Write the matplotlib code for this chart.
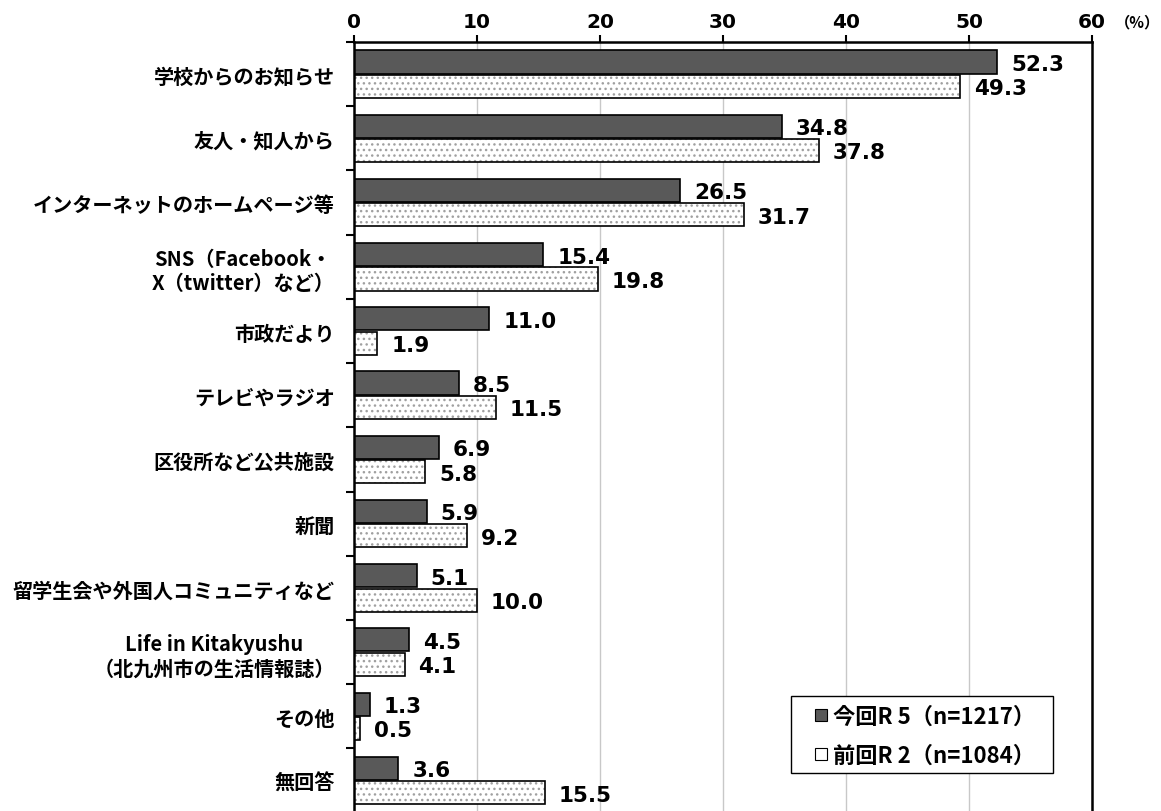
import numpy as np
import matplotlib
matplotlib.use("Agg")
import matplotlib.pyplot as plt
from matplotlib.lines import Line2D
from matplotlib.patches import Rectangle

plt.rcParams['font.family'] = ['Noto Sans CJK JP', 'DejaVu Sans']
plt.rcParams['hatch.linewidth'] = 1.0

# data
categories = [
    "学校からのお知らせ",
    "友人・知人から",
    "インターネットのホームページ等",
    "SNS（Facebook・\nX（twitter）など）",
    "市政だより",
    "テレビやラジオ",
    "区役所など公共施設",
    "新聞",
    "留学生会や外国人コミュニティなど",
    "Life in Kitakyushu\n（北九州市の生活情報誌）",
    "その他",
    "無回答",
]
r5 = [52.3, 34.8, 26.5, 15.4, 11.0, 8.5, 6.9, 5.9, 5.1, 4.5, 1.3, 3.6]
r2 = [49.3, 37.8, 31.7, 19.8, 1.9, 11.5, 5.8, 9.2, 10.0, 4.1, 0.5, 15.5]
legend_labels = ["今回R 5（n=1217）", "前回R 2（n=1084）"]

dark = "#595959"
num_font = ["DejaVu Sans"]
h = 0.36
y = np.arange(len(categories))

fig = plt.figure(figsize=(11.61, 8.12), dpi=100)
ax = fig.add_axes([0.305, -0.002, 0.6355, 0.949])

ax.barh(y - 0.19, r5, height=h, color=dark, edgecolor="black", linewidth=1.2, zorder=3)
# dotted bars: hatch first, then the black outline on top
ax.barh(y + 0.19, r2, height=h, color="white", hatch="...", edgecolor="#a0a0a0", linewidth=0, zorder=3)
ax.barh(y + 0.19, r2, height=h, fill=False, edgecolor="black", linewidth=1.2, zorder=4)

for i in range(len(categories)):
    ax.annotate(f"{r5[i]:.1f}", (r5[i], y[i] - 0.16), xytext=(10, 0), textcoords="offset points",
                ha="left", va="center", fontsize=15.5, fontweight="bold", family=num_font)
    ax.annotate(f"{r2[i]:.1f}", (r2[i], y[i] + 0.22), xytext=(10, 0), textcoords="offset points",
                ha="left", va="center", fontsize=15.5, fontweight="bold", family=num_font)

ax.set_xlim(0, 60)
ax.set_ylim(len(categories) - 0.5, -0.5)
ax.xaxis.tick_top()
ax.set_xticks(np.arange(0, 61, 10))
ax.tick_params(axis="x", direction="out", length=5, width=1.5, pad=3)
for t in ax.get_xticklabels():
    t.set_fontweight("bold")
    t.set_fontsize(14.5)
    t.set_family(num_font)
ax.grid(axis="x", color="#c8c8c8", linewidth=1, zorder=0)

ax.set_yticks(y)
ax.set_yticklabels(categories, fontsize=14.5, fontweight="bold", multialignment="center")
ax.set_yticks(np.arange(-0.5, len(categories), 1), minor=True)
ax.tick_params(axis="y", which="major", length=0, pad=14)
ax.tick_params(axis="y", which="minor", direction="out", length=6, width=1.5)

for s in ax.spines.values():
    s.set_linewidth(1.8)
    s.set_zorder(5)

ax.text(1.031, 1.027, "（%）", transform=ax.transAxes, fontsize=11, fontweight="bold",
        ha="left", va="center")

# legend: own frame box, legend itself frameless
ax.add_patch(Rectangle((0.592, 0.0514), 0.355, 0.0999, transform=ax.transAxes,
                       facecolor="white", edgecolor="black", linewidth=1.0, zorder=6))
handles = [Line2D([], [], linestyle="none", marker="s", markersize=8,
                  markerfacecolor=dark, markeredgecolor="black", markeredgewidth=0.8),
           Line2D([], [], linestyle="none", marker="s", markersize=8,
                  markerfacecolor="white", markeredgecolor="black", markeredgewidth=0.8)]
leg = ax.legend(handles, legend_labels, loc="center left", bbox_to_anchor=(0.618, 0.1),
                borderaxespad=0, borderpad=0, prop={"size": 16, "weight": "bold"},
                handlelength=1.0, handletextpad=0.05, labelspacing=0.7, frameon=False)
leg.set_zorder(7)

fig.savefig("out.png", dpi=100)
